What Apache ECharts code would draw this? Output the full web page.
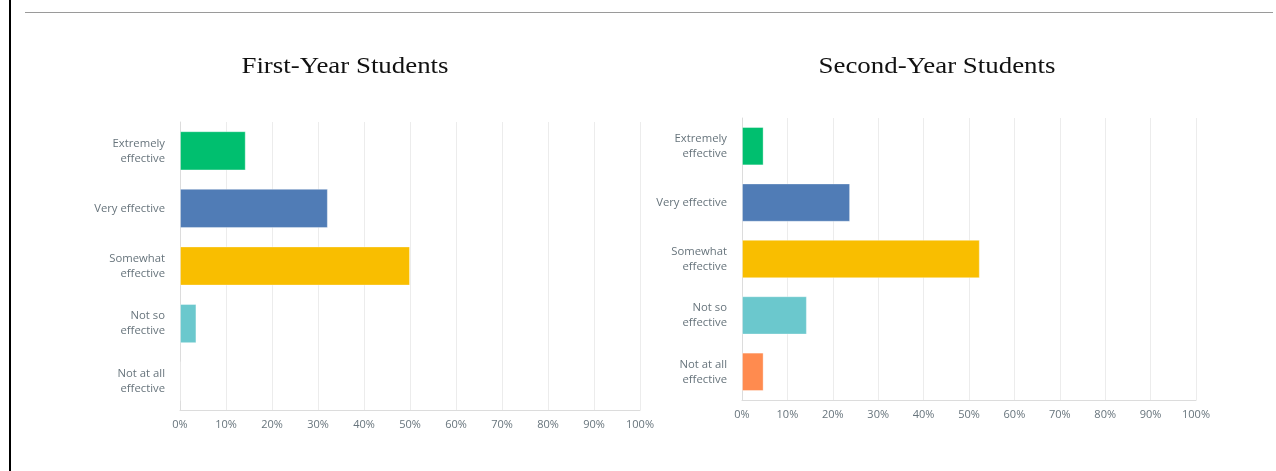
<!DOCTYPE html>
<html>
<head>
<meta charset="utf-8">
<title>Effectiveness ratings</title>
<script src="https://cdn.jsdelivr.net/npm/echarts@6/dist/echarts.min.js"></script>
<style>
  html, body { margin: 0; padding: 0; background: #ffffff; }
  #chart { width: 1276px; height: 471px; }
</style>
</head>
<body>
<div id="chart"></div>
<script>
// Response categories, top to bottom
const categories = [
  'Extremely\neffective',
  'Very effective',
  'Somewhat\neffective',
  'Not so\neffective',
  'Not at all\neffective'
];

// Share of respondents (%) per category
const firstYear = [14.29, 32.14, 50.0, 3.57, 0];
const secondYear = [4.76, 23.81, 52.38, 14.29, 4.76];

// Panel titles
const panelTitles = ['First-Year Students', 'Second-Year Students'];

// One colour per answer category
const barColors = ['#00BF6F', '#507CB6', '#F9BE00', '#6BC8CD', '#FF8B4F'];

const labelFont = '"Open Sans", "Noto Sans", sans-serif';
const labelColor = '#67747C';
const titleFont = '"Liberation Serif", "DejaVu Serif", serif';

function xAxisFor(gridIndex) {
  return {
    type: 'value',
    gridIndex: gridIndex,
    min: 0,
    max: 100,
    interval: 10,
    axisLine: { show: true, lineStyle: { color: '#dcdcdc', width: 1 } },
    axisTick: { show: false },
    splitLine: { show: true, lineStyle: { color: '#ececec', width: 1 } },
    axisLabel: {
      formatter: '{value}%',
      color: labelColor,
      fontFamily: labelFont,
      fontSize: 11,
      margin: 9
    }
  };
}

function yAxisFor(gridIndex) {
  return {
    type: 'category',
    gridIndex: gridIndex,
    data: categories,
    inverse: true,
    axisLine: { show: true, lineStyle: { color: '#dcdcdc', width: 1 } },
    axisTick: { show: false },
    splitLine: { show: false },
    axisLabel: {
      color: labelColor,
      fontFamily: labelFont,
      fontSize: 11.3,
      lineHeight: 15,
      margin: 15,
      align: 'right',
      padding: [2, 0, 0, 0]
    }
  };
}

function seriesFor(values, axisIndex) {
  return {
    type: 'bar',
    xAxisIndex: axisIndex,
    yAxisIndex: axisIndex,
    barWidth: '68%',
    data: values.map(function (v, i) {
      return {
        value: v,
        itemStyle: {
          color: barColors[i],
          borderColor: 'rgba(255,255,255,0.35)',
          borderWidth: 1
        }
      };
    }),
    silent: true,
    animation: false
  };
}

// Serif panel heading, drawn slightly wide
function headingFor(text, cx) {
  return {
    type: 'text',
    x: cx,
    y: 67,
    scaleX: 1.12,
    silent: true,
    style: {
      text: text,
      fontFamily: titleFont,
      fontSize: 24,
      fill: '#111111',
      align: 'center',
      verticalAlign: 'middle'
    }
  };
}

const chart = echarts.init(document.getElementById('chart'), null, { renderer: 'canvas' });

chart.setOption({
  backgroundColor: '#ffffff',
  animation: false,
  grid: [
    { left: 180, width: 460, top: 122, height: 288, containLabel: false },
    { left: 742, width: 454, top: 118, height: 282, containLabel: false }
  ],
  xAxis: [xAxisFor(0), xAxisFor(1)],
  yAxis: [yAxisFor(0), yAxisFor(1)],
  series: [seriesFor(firstYear, 0), seriesFor(secondYear, 1)],
  graphic: [
    headingFor(panelTitles[0], 345),
    headingFor(panelTitles[1], 937),
    // page frame: dark rule on the left, grey rule across the top
    {
      type: 'line',
      shape: { x1: 10, y1: 0, x2: 10, y2: 471 },
      style: { stroke: '#000000', lineWidth: 2 },
      silent: true
    },
    {
      type: 'line',
      shape: { x1: 25, y1: 12.5, x2: 1273, y2: 12.5 },
      style: { stroke: '#9a9a9a', lineWidth: 1 },
      silent: true
    }
  ]
});
</script>
</body>
</html>
